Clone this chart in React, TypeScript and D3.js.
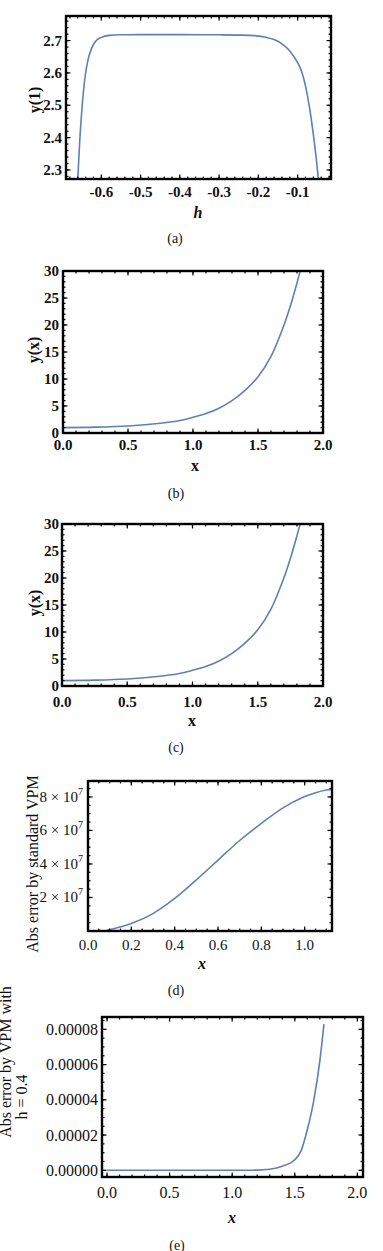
import * as d3 from 'd3';
import React from 'react';

const FONT = 'Liberation Serif';
const LINE = '#5e81b5';

// (a) y(1) against h
const hA = [-0.66, -0.655, -0.65, -0.645, -0.64, -0.633, -0.625, -0.615, -0.6, -0.58, -0.55, -0.5, -0.4, -0.3, -0.25, -0.21, -0.18, -0.16, -0.14, -0.12, -0.1, -0.09, -0.08, -0.07, -0.06, -0.053, -0.047];
const yA = [2.272, 2.39, 2.48, 2.55, 2.6, 2.645, 2.675, 2.697, 2.71, 2.716, 2.718, 2.7183, 2.7183, 2.7178, 2.717, 2.7152, 2.71, 2.703, 2.69, 2.668, 2.632, 2.605, 2.56, 2.495, 2.41, 2.34, 2.27];
const hTicks = [-0.6, -0.5, -0.4, -0.3, -0.2, -0.1];
const yATicks = [2.3, 2.4, 2.5, 2.6, 2.7];

// (b) and (c) y(x)
const xB = [0, 0.25, 0.5, 0.75, 0.9, 1.0, 1.1, 1.2, 1.3, 1.4, 1.5, 1.6, 1.7, 1.75, 1.8, 1.84];
const yB = [1.0, 1.08, 1.3, 1.8, 2.3, 2.9, 3.6, 4.6, 6.0, 7.9, 10.4, 14.2, 20.0, 23.6, 27.8, 31.4];
const yC = [1.0, 1.08, 1.3, 1.8, 2.3, 2.9, 3.6, 4.6, 6.0, 7.9, 10.4, 14.2, 20.0, 23.6, 27.8, 31.4];
const xBTicks = [0, 0.5, 1.0, 1.5, 2.0];
const yBTicks = [0, 5, 10, 15, 20, 25, 30];

// (d) abs error by standard VPM (units of 1e7)
const xD = [0.068, 0.1, 0.2, 0.3, 0.4, 0.5, 0.6, 0.7, 0.8, 0.9, 1.0, 1.05, 1.1, 1.125];
const yD = [0, 0.08, 0.45, 1.04, 1.94, 3.05, 4.23, 5.4, 6.42, 7.35, 8.02, 8.25, 8.41, 8.45];
const xDTicks = [0, 0.2, 0.4, 0.6, 0.8, 1.0];
const yDTicks = [2, 4, 6, 8];

// (e) abs error by VPM with h = 0.4 (units of 1e-5)
const xE = [0, 0.5, 1.0, 1.2, 1.3, 1.4, 1.5, 1.55, 1.6, 1.65, 1.7, 1.733];
const yE = [0, 0, 0, 0.01, 0.06, 0.23, 0.6, 1.1, 2.3, 3.9, 6.2, 8.3];
const xETicks = [0, 0.5, 1.0, 1.5, 2.0];
const yETicks = [0, 2, 4, 6, 8];

type Lbl = { text: string; x: number; y: number; italic?: boolean; bold?: boolean; size?: number };

type PanelProps = {
  id: string;
  frame: [number, number, number, number];
  xDomain: [number, number];
  yDomain: [number, number];
  xs: number[];
  ys: number[];
  curve: d3.CurveFactory;
  xTicks: number[];
  yTicks: number[];
  xMinor: number;
  yMinor: number;
  xFmt: (v: number) => React.ReactNode;
  yFmt: (v: number) => React.ReactNode;
  tickSize: number;
  tickWeight: string;
  xTickY: number;
  yTickX: number;
  xLabel: Lbl;
  yLabels: Lbl[];
  caption: Lbl;
};

const minorRange = (d: [number, number], step: number) => {
  const lo = Math.min(d[0], d[1]);
  const hi = Math.max(d[0], d[1]);
  return d3.range(Math.ceil(lo / step - 1e-9), Math.floor(hi / step + 1e-9) + 1).map((i) => i * step);
};

const Panel = (p: PanelProps) => {
  const [l, t, r, b] = p.frame;
  const x = d3.scaleLinear().domain(p.xDomain).range([l, r]);
  const y = d3.scaleLinear().domain(p.yDomain).range([b, t]);
  const line = d3
    .line<number>()
    .x((_, i) => x(p.xs[i]))
    .y((d) => y(d))
    .curve(p.curve);

  const xMin = minorRange(p.xDomain, p.xMinor);
  const yMin = minorRange(p.yDomain, p.yMinor);
  const major = 4.5;
  const minor = 2.5;

  return (
    <g>
      <defs>
        <clipPath id={`clip-${p.id}`}>
          <rect x={l} y={t} width={r - l} height={b - t} />
        </clipPath>
      </defs>
      <path d={line(p.ys) || ''} fill="none" stroke={LINE} strokeWidth={1.6} clipPath={`url(#clip-${p.id})`} />
      <g stroke="#000" strokeWidth={1.2}>
        {xMin.map((v) => (
          <g key={`xm${v}`}>
            <line x1={x(v)} x2={x(v)} y1={b} y2={b - minor} />
            <line x1={x(v)} x2={x(v)} y1={t} y2={t + minor} />
          </g>
        ))}
        {yMin.map((v) => (
          <g key={`ym${v}`}>
            <line x1={l} x2={l + minor} y1={y(v)} y2={y(v)} />
            <line x1={r} x2={r - minor} y1={y(v)} y2={y(v)} />
          </g>
        ))}
        {p.xTicks.map((v) => (
          <g key={`xM${v}`}>
            <line x1={x(v)} x2={x(v)} y1={b} y2={b - major} />
            <line x1={x(v)} x2={x(v)} y1={t} y2={t + major} />
          </g>
        ))}
        {p.yTicks.map((v) => (
          <g key={`yM${v}`}>
            <line x1={l} x2={l + major} y1={y(v)} y2={y(v)} />
            <line x1={r} x2={r - major} y1={y(v)} y2={y(v)} />
          </g>
        ))}
      </g>
      <rect x={l} y={t} width={r - l} height={b - t} fill="none" stroke="#000" strokeWidth={2.4} />
      <g style={{ fontFamily: FONT }} fontSize={p.tickSize} fontWeight={p.tickWeight} fill="#111">
        {p.xTicks.map((v) => (
          <text key={`xl${v}`} x={x(v)} y={p.xTickY} textAnchor="middle" dominantBaseline="central">
            {p.xFmt(v)}
          </text>
        ))}
        {p.yTicks.map((v) => (
          <text key={`yl${v}`} x={p.yTickX} y={y(v)} textAnchor="end" dominantBaseline="central">
            {p.yFmt(v)}
          </text>
        ))}
      </g>
      {[p.xLabel, p.caption].map((lb, i) => (
        <text
          key={`lb${i}`}
          x={lb.x}
          y={lb.y}
          textAnchor="middle"
          dominantBaseline="central"
          style={{ fontFamily: FONT }}
          fontSize={lb.size ?? 16}
          fontWeight={lb.bold ? 'bold' : 'normal'}
          fontStyle={lb.italic ? 'italic' : 'normal'}
          fill="#111"
        >
          {lb.text}
        </text>
      ))}
      {p.yLabels.map((lb, i) => (
        <text
          key={`yt${i}`}
          transform={`translate(${lb.x},${lb.y}) rotate(-90)`}
          textAnchor="middle"
          dominantBaseline="central"
          style={{ fontFamily: FONT }}
          fontSize={lb.size ?? 16}
          fontWeight={lb.bold ? 'bold' : 'normal'}
          fontStyle={lb.italic ? 'italic' : 'normal'}
          fill="#111"
        >
          {lb.text}
        </text>
      ))}
    </g>
  );
};

const f1 = d3.format('.1f');
const sci7 = (v: number) => (
  <>
    {`${v} × 10`}
    <tspan dy={-6} fontSize={10}>
      7
    </tspan>
  </>
);

export default function App() {
  return (
    <svg width={383} height={1251} style={{ position: 'absolute', left: 0, top: 0, background: '#fff' }}>
      <rect width={383} height={1251} fill="#fff" />
      <Panel
        id="a"
        frame={[66, 16, 331, 179]}
        xDomain={[-0.69, -0.015]}
        yDomain={[2.272, 2.776]}
        xs={hA}
        ys={yA}
        curve={d3.curveMonotoneX}
        xTicks={hTicks}
        yTicks={yATicks}
        xMinor={0.02}
        yMinor={0.02}
        xFmt={(v) => f1(v).replace('−', '-')}
        yFmt={f1}
        tickSize={15}
        tickWeight="bold"
        xTickY={192}
        yTickX={62}
        xLabel={{ text: 'h', x: 198, y: 212, italic: true, bold: true }}
        yLabels={[{ text: 'y(1)', x: 34, y: 100, bold: true }]}
        caption={{ text: '(a)', x: 175, y: 238, size: 14 }}
      />
      <Panel
        id="b"
        frame={[63, 271, 323, 433]}
        xDomain={[0, 2]}
        yDomain={[0, 30]}
        xs={xB}
        ys={yB}
        curve={d3.curveCatmullRom.alpha(0.5)}
        xTicks={xBTicks}
        yTicks={yBTicks}
        xMinor={0.1}
        yMinor={1}
        xFmt={f1}
        yFmt={(v) => String(v)}
        tickSize={15}
        tickWeight="bold"
        xTickY={445}
        yTickX={59}
        xLabel={{ text: 'x', x: 195, y: 465, bold: true }}
        yLabels={[{ text: 'y(x)', x: 33, y: 350, bold: true }]}
        caption={{ text: '(b)', x: 176, y: 493, size: 14 }}
      />
      <Panel
        id="c"
        frame={[62, 524, 323, 686]}
        xDomain={[0, 2]}
        yDomain={[0, 30]}
        xs={xB}
        ys={yC}
        curve={d3.curveCatmullRom.alpha(0.5)}
        xTicks={xBTicks}
        yTicks={yBTicks}
        xMinor={0.1}
        yMinor={1}
        xFmt={f1}
        yFmt={(v) => String(v)}
        tickSize={15}
        tickWeight="bold"
        xTickY={702}
        yTickX={59}
        xLabel={{ text: 'x', x: 192, y: 720, bold: true }}
        yLabels={[{ text: 'y(x)', x: 34, y: 603, bold: true }]}
        caption={{ text: '(c)', x: 176, y: 747, size: 14 }}
      />
      <Panel
        id="d"
        frame={[88, 781, 332, 931]}
        xDomain={[0, 1.126]}
        yDomain={[0, 8.95]}
        xs={xD}
        ys={yD}
        curve={d3.curveCatmullRom.alpha(0.5)}
        xTicks={xDTicks}
        yTicks={yDTicks}
        xMinor={0.05}
        yMinor={0.5}
        xFmt={f1}
        yFmt={sci7}
        tickSize={15}
        tickWeight="normal"
        xTickY={945}
        yTickX={83}
        xLabel={{ text: 'x', x: 202, y: 963, italic: true, bold: true }}
        yLabels={[{ text: 'Abs error by standard VPM', x: 32, y: 864, size: 16 }]}
        caption={{ text: '(d)', x: 176, y: 990, size: 14 }}
      />
      <Panel
        id="e"
        frame={[102, 1017, 363, 1177]}
        xDomain={[-0.04, 2.045]}
        yDomain={[-0.38, 8.7]}
        xs={xE}
        ys={yE}
        curve={d3.curveMonotoneX}
        xTicks={xETicks}
        yTicks={yETicks}
        xMinor={0.1}
        yMinor={0.5}
        xFmt={f1}
        yFmt={(v) => d3.format('.5f')(v * 1e-5)}
        tickSize={16}
        tickWeight="normal"
        xTickY={1192}
        yTickX={98}
        xLabel={{ text: 'x', x: 232, y: 1217, italic: true, bold: true }}
        yLabels={[
          { text: 'Abs error by VPM with', x: 5, y: 1062, size: 16 },
          { text: 'h = 0.4', x: 21, y: 1097, size: 16 },
        ]}
        caption={{ text: '(e)', x: 177, y: 1245, size: 14 }}
      />
    </svg>
  );
}
